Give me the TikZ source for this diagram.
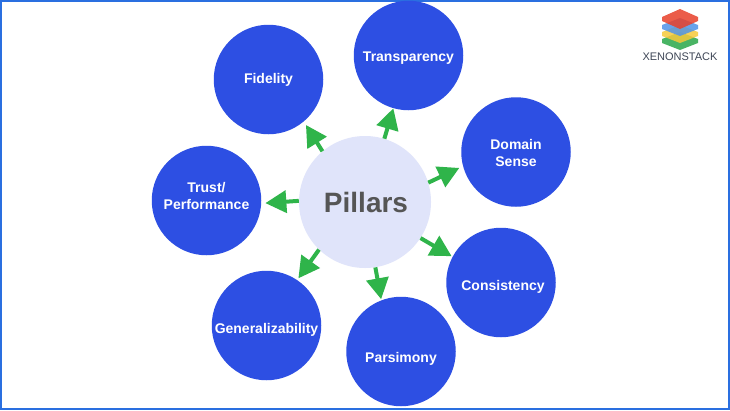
\documentclass[tikz,border=0pt]{standalone}
\usepackage{fontspec}
\setmainfont{Liberation Sans}
\usetikzlibrary{arrows.meta}
\definecolor{pillblue}{HTML}{2D4FE3}
\definecolor{pale}{HTML}{E0E4FA}
\definecolor{arrowgreen}{HTML}{2FB44A}
\definecolor{frameblue}{HTML}{2A6FE0}
\definecolor{titlegrey}{HTML}{555555}
\definecolor{logotext}{HTML}{3F4757}
\definecolor{lgred}{HTML}{E8402A}
\definecolor{lgblue}{HTML}{4F94E8}
\definecolor{lgyellow}{HTML}{F6C93A}
\definecolor{lggreen}{HTML}{2AA84A}
\newcommand{\lift}[2]{\raisebox{#1}[\height][\depth]{#2}}
\tikzset{
  x=1pt,y=-1pt,
  pillar/.style={circle,fill=pillblue,draw=none,minimum size=109.5pt,inner sep=0pt,text=white,align=center,font=\bfseries\fontsize{14}{17}\selectfont},
  hub/.style={circle,fill=pale,draw=none,minimum size=132pt,inner sep=0pt,text=titlegrey,font=\bfseries\fontsize{28}{34}\selectfont},
  link/.style={draw=arrowgreen,line width=4pt,-{Triangle[length=21pt,width=22pt]},shorten >=#1},
  link/.default=0pt,
  layer/.style={fill=#1,fill opacity=.85,draw=none}
}
\begin{document}
\begin{tikzpicture}
\useasboundingbox (0,0) rectangle (730,410);
\fill[white] (0,0) rectangle (730,410);
\draw[frameblue,line width=1.6pt] (.8,.8) rectangle (729.2,409.2);
\node[hub] (hub) at (365,202) {\hspace{2pt}Pillars};
\node[pillar] (fidelity) at (268.5,79.5) {Fidelity};
\node[pillar] (transparency) at (408.5,55.5) {\lift{-2.5pt}{Transparency}};
\node[pillar] (domain) at (516,152) {\lift{-3pt}{\begin{tabular}{@{}c@{}}Domain\\Sense\end{tabular}}};
\node[pillar] (consistency) at (501,282.5) {\lift{-4.5pt}{\hspace{4pt}Consistency}};
\node[pillar] (parsimony) at (401,351.5) {\lift{-7.5pt}{Parsimony}};
\node[pillar] (general) at (266.5,325.5) {\lift{-4.5pt}{Generalizability}};
\node[pillar] (trust) at (206.5,200.5) {\lift{2.5pt}{\begin{tabular}{@{}c@{}}Trust/\\Performance\end{tabular}}};
\draw[link=4pt] (hub.130) -- (fidelity.-50);
\draw[link=0pt] (hub.73.5) -- (transparency.-106);
\draw[link=4pt] (hub.17.6) -- (domain.195);
\draw[link=1pt] (hub.-33) -- (consistency.152.5);
\draw[link=1pt] (hub.-81) -- (parsimony.111);
\draw[link=2pt] (hub.226) -- (general.56);
\draw[link=4pt] (hub.179) -- (trust.-3);
% logo
\fill[layer=lggreen] (662,39)--(680,32)--(698,39)--(698,43)--(680,50)--(662,43)--cycle;
\fill[layer=lgyellow] (662,32)--(680,25)--(698,32)--(698,36)--(680,43)--(662,36)--cycle;
\fill[layer=lgblue] (662,25)--(680,18)--(698,25)--(698,29)--(680,36)--(662,29)--cycle;
\fill[layer=lgred] (662,17)--(680,9)--(698,17)--(698,21)--(680,29)--(662,21)--cycle;
\node[text=logotext,inner sep=0pt,font=\fontsize{11}{14}\selectfont] (logo) at (680,57) {XENONSTACK};
\end{tikzpicture}
\end{document}
